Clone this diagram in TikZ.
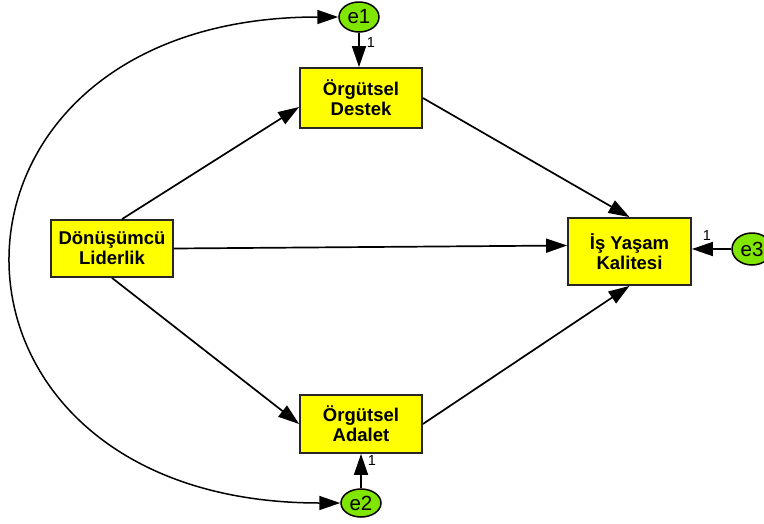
\documentclass[tikz,border=0pt]{standalone}
\usepackage{fontspec}
\setmainfont{Liberation Sans}
\usetikzlibrary{arrows.meta,shapes.geometric}
\definecolor{boxfill}{RGB}{255,255,0}
\definecolor{errfill}{RGB}{128,230,0}
\begin{document}
\begin{tikzpicture}[x=1pt,y=-1pt,
  varbox/.style={draw=black!85,line width=1.8pt,fill=boxfill,align=center,
    font=\fontsize{18.5}{20}\selectfont\bfseries,inner sep=0pt,
    minimum width=122pt},
  errnode/.style={ellipse,draw=black,line width=1.5pt,fill=errfill,
    minimum width=40pt,minimum height=30pt,inner sep=0pt,
    font=\fontsize{20.5}{20}\selectfont},
  path/.style={line width=1.7pt,-{Triangle[length=21pt,width=14pt]}},
  wlabel/.style={font=\fontsize{14.5}{14}\selectfont}]
\path[use as bounding box] (0,0) rectangle (764,523);
\clip (0,0) rectangle (764,523);

% observed variables
\node[varbox,minimum height=57pt] (L) at (112,248.5) {Dönüşümcü\\Liderlik};
\node[varbox,minimum height=60pt] (D) at (361,98) {Örgütsel\\Destek};
\node[varbox,minimum height=58pt] (A) at (361,424) {Örgütsel\\Adalet};
\node[varbox,minimum height=67pt,minimum width=123pt] (I) at (629.5,251.5) {İş Yaşam\\Kalitesi};

% error terms
\node[errnode] (e1) at (359,17) {e1};
\node[errnode,minimum height=28pt] (e2) at (361,503) {e2};
\node[errnode,minimum height=32pt] (e3) at (752,249) {e3};

% structural paths
\draw[path] ([xshift=10pt]L.north) -- ([yshift=-9pt]D.west);
\draw[path] (L.east) -- ([yshift=6pt]I.west);
\draw[path] (L.south) -- (A.west);
\draw[path] (D.east) -- (I.north);
\draw[path] (A.east) -- (I.south);

% error paths
\draw[path] (e1.south) -- (e1.south |- D.north);
\draw[path] (e2.north) -- (e2.north |- A.south);
\draw[path] (e3.west) -- (e3.west -| I.east);

% covariance between e1 and e2
\draw[line width=1.5pt,{Triangle[length=21pt,width=14pt]}-{Triangle[length=21pt,width=14pt]}]
  (e2.west) .. controls +(-435,0) and +(-432,0) .. (e1.west);

% fixed weights
\node[wlabel] (w1) at (371,43) {1};
\node[wlabel] (w2) at (372,461) {1};
\node[wlabel] (w3) at (707,236) {1};
\end{tikzpicture}
\end{document}
